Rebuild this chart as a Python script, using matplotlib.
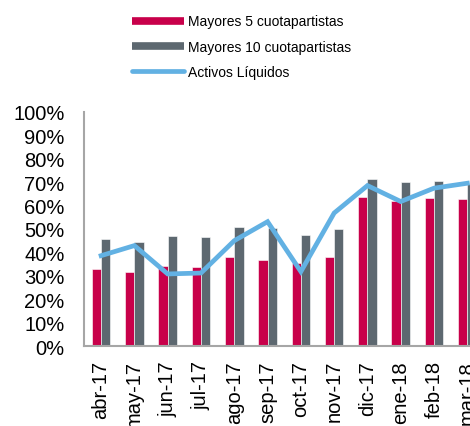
import matplotlib.pyplot as plt
import numpy as np
from matplotlib.lines import Line2D
from matplotlib.ticker import PercentFormatter

plt.rcParams['font.family'] = ['Liberation Sans', 'DejaVu Sans']

# Data
months = ["abr-17", "may-17", "jun-17", "jul-17", "ago-17", "sep-17",
          "oct-17", "nov-17", "dic-17", "ene-18", "feb-18", "mar-18"]
top5 = [33, 31.6, 34.3, 33.8, 37.9, 36.9, 35.5, 37.9, 63.8, 62.1, 63.1, 62.7]
top10 = [45.9, 44.4, 47, 46.6, 50.7, 50.3, 47.4, 50, 71.4, 70.2, 70.3, 69]
liquid = [38.6, 42.9, 30.8, 31.2, 45, 53.1, 31.8, 56.8, 68.5, 61.7, 67.4, 69.5]

red = "#c8004a"
gray = "#5d6870"
blue = "#62b1e3"

fig = plt.figure(figsize=(4.7, 4.27), dpi=100)
ax = fig.add_axes([0.179, 0.187, 0.821, 0.549])

x = np.arange(len(months))
w = 0.28
ax.bar(x - w / 2, top5, w, color=red, edgecolor="white", linewidth=0.4)
ax.bar(x + w / 2, top10, w, color=gray, edgecolor="white", linewidth=0.4)
ax.plot(x, liquid, color=blue, lw=3.4, solid_joinstyle="miter")

ax.set_ylim(0, 100)
ax.set_xlim(-0.51, 11.08)
ax.set_yticks(range(0, 101, 10))
ax.yaxis.set_major_formatter(PercentFormatter(decimals=0))
ax.set_xticks(x)
ax.set_xticklabels(months, rotation=90)
ax.tick_params(axis="both", length=0, labelsize=14.5)
ax.tick_params(axis="y", pad=14)
ax.tick_params(axis="x", pad=10)

for s in ["top", "right"]:
    ax.spines[s].set_visible(False)
for s in ["left", "bottom"]:
    ax.spines[s].set_color("#a6a6a6")
    ax.spines[s].set_linewidth(1.5)

handles = [Line2D([], [], color=red, lw=5.5, solid_capstyle="butt"),
           Line2D([], [], color=gray, lw=5.5, solid_capstyle="butt"),
           Line2D([], [], color=blue, lw=3.4, solid_capstyle="round")]
labels = ["Mayores 5 cuotapartistas", "Mayores 10 cuotapartistas", "Activos Líquidos"]
fig.legend(handles, labels, loc="upper left", bbox_to_anchor=(0.254, 0.993),
           frameon=False, fontsize=10, handlelength=3.75, handletextpad=0.3,
           labelspacing=0.82)

fig.savefig("out.png", dpi=100)
